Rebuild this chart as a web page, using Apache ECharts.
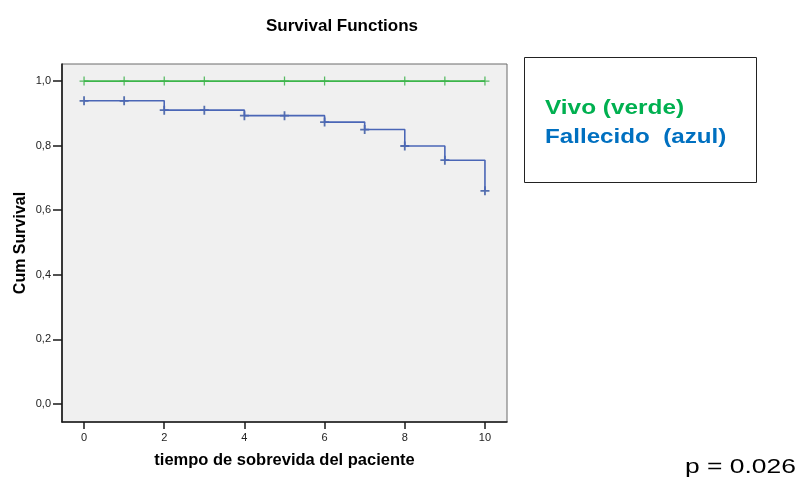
<!DOCTYPE html>
<html><head><meta charset="utf-8">
<script src="https://cdn.jsdelivr.net/npm/echarts@6/dist/echarts.min.js"></script>
<style>html,body{margin:0;padding:0;background:#fff}#c{width:799px;height:481px}</style>
</head><body><div id="c"></div>
<script>
const xTicks = [0, 2, 4, 6, 8, 10];
const yTicks = [0, 0.2, 0.4, 0.6, 0.8, 1.0];
// Kaplan-Meier steps (time, survival)
const vivoSteps = [[0, 1.0], [10, 1.0]];
const fallecidoSteps = [[0, 0.939], [2, 0.910], [4, 0.893], [6, 0.873], [7, 0.850], [8, 0.799], [9, 0.755], [10, 0.660]];
// censored marks
const vivoCensored = [[0, 1.0], [1, 1.0], [2, 1.0], [3, 1.0], [5, 1.0], [6, 1.0], [8, 1.0], [9, 1.0], [10, 1.0]];
const fallecidoCensored = [[0, 0.939], [1, 0.939], [2, 0.910], [3, 0.910], [4, 0.893], [5, 0.893], [6, 0.873], [7, 0.850], [8, 0.799], [9, 0.755], [10, 0.660]];

const plus = 'path://M4,0 L6,0 L6,4 L10,4 L10,6 L6,6 L6,10 L4,10 L4,6 L0,6 L0,4 L4,4 Z';
const plusThin = 'path://M4.3,0 L5.7,0 L5.7,4.3 L10,4.3 L10,5.7 L5.7,5.7 L5.7,10 L4.3,10 L4.3,5.7 L0,5.7 L0,4.3 L4.3,4.3 Z';
const FF = '"Liberation Sans", Arial, sans-serif';
const chart = echarts.init(document.getElementById('c'));
const fmt = v => v.toFixed(1).replace('.', ',');
chart.setOption({
  animation: false,
  title: { text: 'Survival Functions', left: 337, top: 13, textAlign: 'center',
    textStyle: { fontFamily: FF, fontSize: 17, fontWeight: 'bold', color: '#000' } },
  grid: { left: 62, top: 64, right: 292, bottom: 59, show: true, backgroundColor: '#f0f0f0', borderColor: '#6a6a6a', borderWidth: 1 },
  xAxis: { type: 'value', min: -0.55, max: 10.55,
    name: 'tiempo de sobrevida del paciente', nameLocation: 'middle', nameGap: 30, nameMoveOverlap: false,
    nameTextStyle: { fontFamily: FF, fontSize: 16.5, fontWeight: 'bold', color: '#000' },
    axisLine: { show: true, onZero: false, lineStyle: { color: '#1a1a1a', width: 1.6 } },
    axisTick: { show: true, length: 7, customValues: xTicks, lineStyle: { color: '#1a1a1a', width: 1.5 } },
    axisLabel: { customValues: xTicks, fontFamily: FF, fontSize: 11, color: '#222', margin: 10, formatter: v => String(v) },
    splitLine: { show: false } },
  yAxis: { type: 'value', min: -0.056, max: 1.053,
    name: 'Cum Survival', nameLocation: 'middle', nameGap: 33, nameRotate: 90, nameMoveOverlap: false,
    nameTextStyle: { fontFamily: FF, fontSize: 16, fontWeight: 'bold', color: '#000' },
    axisLine: { show: true, onZero: false, lineStyle: { color: '#1a1a1a', width: 1.6 } },
    axisTick: { show: true, length: 9, customValues: yTicks, lineStyle: { color: '#1a1a1a', width: 1.5 } },
    axisLabel: { customValues: yTicks, fontFamily: FF, fontSize: 11, color: '#222', margin: 11, formatter: fmt },
    splitLine: { show: false } },
  series: [
    { type: 'line', data: vivoSteps, step: 'end', symbol: 'none', lineStyle: { color: '#3cb54a', width: 1.6 } },
    { type: 'line', data: fallecidoSteps, step: 'end', symbol: 'none', lineStyle: { color: '#4a66b6', width: 1.6 } },
    { type: 'scatter', data: vivoCensored, symbol: plusThin, symbolSize: 9, itemStyle: { color: '#2fae3f' }, clip: false },
    { type: 'scatter', data: fallecidoCensored, symbol: plus, symbolSize: 9, itemStyle: { color: '#30509f' }, clip: false }
  ],
  graphic: [
    { type: 'rect', shape: { x: 524.5, y: 57.5, width: 232, height: 125 }, style: { fill: '#fff', stroke: '#222', lineWidth: 1 } },
    { type: 'text', x: 545, y: 109, scaleX: 1.25, style: { text: 'Vivo (verde)', fill: '#00b050', font: 'bold 19.5px ' + FF, textVerticalAlign: 'middle', verticalAlign: 'middle' } },
    { type: 'text', x: 545, y: 138, scaleX: 1.24, style: { text: 'Fallecido  (azul)', fill: '#0070c0', font: 'bold 19.5px ' + FF, textVerticalAlign: 'middle', verticalAlign: 'middle' } },
    { type: 'text', x: 685, y: 467, scaleX: 1.32, style: { text: 'p = 0.026', fill: '#000', font: '20px ' + FF, textVerticalAlign: 'middle', verticalAlign: 'middle' } }
  ]
});
</script></body></html>
